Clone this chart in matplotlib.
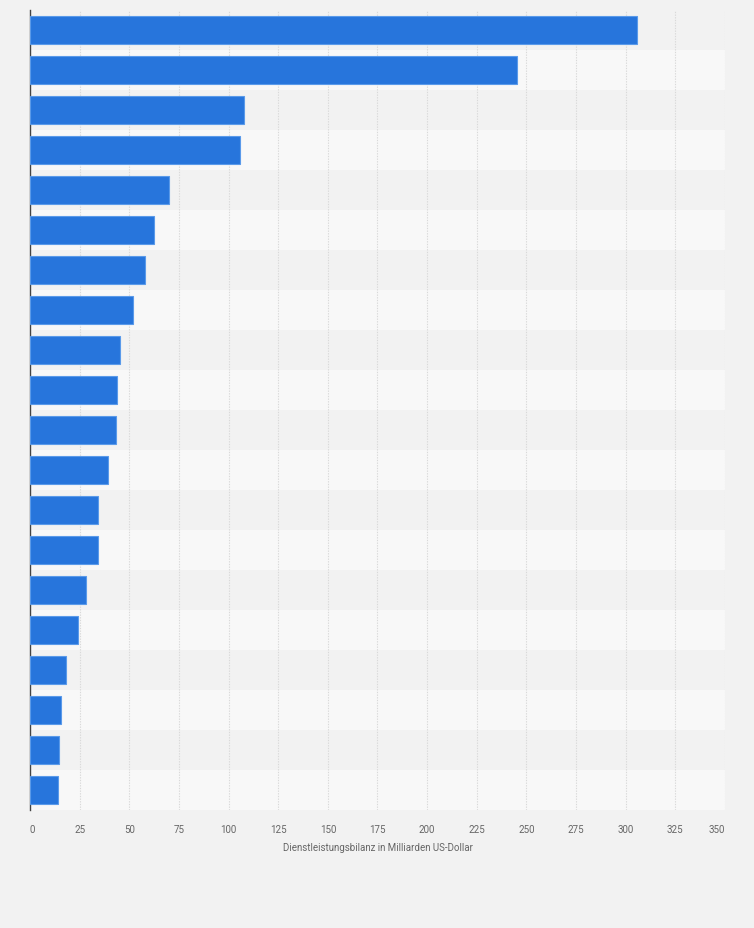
import matplotlib
matplotlib.use("Agg")
import matplotlib.pyplot as plt
import numpy as np

# Ranks (the reference shows no category labels)
ranks = [str(i) for i in range(1, 21)]
values = [305.9, 245.5, 107.9, 105.8, 69.8, 62.6, 57.7, 51.7, 45.1, 43.9,
          43.1, 39.4, 34.0, 34.0, 28.3, 24.4, 18.3, 15.7, 14.6, 14.1]
xticks = [0, 25, 50, 75, 100, 125, 150, 175, 200, 225, 250, 275, 300, 325, 350]
xlabel = "Dienstleistungsbilanz in Milliarden US-Dollar"

plt.rcParams["font.family"] = ["Roboto", "DejaVu Sans"]

W, H = 754, 929
fig = plt.figure(figsize=(W / 100, H / 100), dpi=100, facecolor="#f2f2f2")
ax = fig.add_axes([30 / W, (H - 811) / H, (725 - 30) / W, 800 / H])
ax.set_facecolor("#f2f2f2")

n = len(values)
y = np.arange(n)
for i in range(n):
    if i % 2 == 1:
        ax.axhspan(i - 0.5, i + 0.5, color="#f8f8f8", zorder=0, lw=0)

for t in xticks[1:]:
    ax.axvline(t, color="#d9d9d9", lw=0.8, ls=(0, (1.2, 1.2)), zorder=1)

ax.barh(y, values, height=0.7, color="#2775dc", edgecolor="#5a9aea",
        linewidth=0.8, zorder=3)

ax.set_xlim(0, 350)
ax.set_ylim(n - 0.5, -0.5)
ax.set_xticks(xticks)
labels = ax.set_xticklabels([str(t) for t in xticks], fontsize=7, color="#666666")
labels[0].set_horizontalalignment("left")
labels[-1].set_horizontalalignment("right")
ax.tick_params(axis="x", length=0, pad=10)
ax.set_yticks(y)
ax.set_yticklabels([])
ax.tick_params(axis="y", length=0)
for s in ["top", "right", "bottom"]:
    ax.spines[s].set_visible(False)
ax.spines["left"].set_color("#444444")
ax.spines["left"].set_linewidth(1.0)
ax.set_xlabel(xlabel, fontsize=7, color="#666666", labelpad=6)

fig.savefig("out.png", dpi=100, facecolor=fig.get_facecolor())
